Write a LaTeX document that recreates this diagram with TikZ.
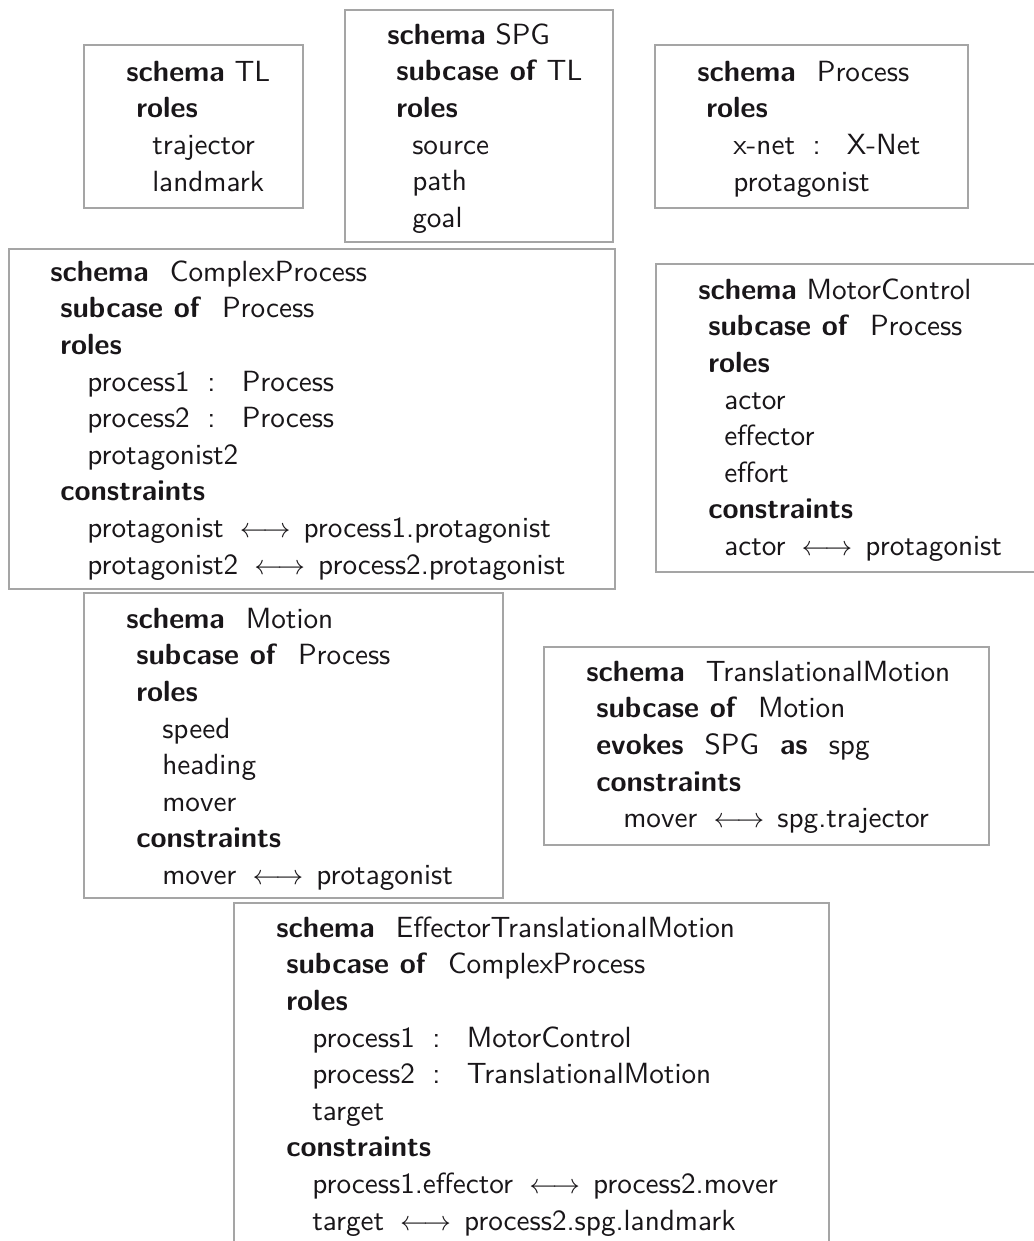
\documentclass[tikz,border=0pt]{standalone}
\usepackage{fontspec}
\setsansfont{lmsans10}[Extension=.otf, UprightFont=*-regular, BoldFont=*-bold]
\newdimen\pxu \pxu=0.75pt
\newcommand\kw[1]{\textbf{#1}}
\newcommand\wgap{\hspace{0.72em}}
\newcommand\colsep{\hspace{0.6em}:\hspace{0.9em}}
\newcommand\lra{\hspace{0.55em}$\longleftrightarrow$\hspace{0.45em}}
\newcommand\ind[1]{\hspace*{#1\pxu}}
\definecolor{boxgray}{RGB}{165,165,165}
\definecolor{ink}{RGB}{25,22,25}
\tikzset{
  schemabox/.style={draw=boxgray, line width=1.5pt},
  schematext/.style={anchor=north west, inner sep=0pt, align=left, text=ink,
    font=\sffamily\fontsize{21.9}{27.45}\selectfont},
}
\begin{document}
\begin{tikzpicture}[x=0.75pt,y=-0.75pt]
\useasboundingbox (0,0) rectangle (1034,1241);
\fill[white] (0,0) rectangle (1034,1241);
\clip (0,0) rectangle (1034,1241);
% boxes
\draw[schemabox] (84,45) rectangle (303,208);
\draw[schemabox] (345,10) rectangle (613,242);
\draw[schemabox] (655,45) rectangle (968,208);
\draw[schemabox] (9,249) rectangle (615,589);
\draw[schemabox] (656,264) rectangle (1045,572);
\draw[schemabox] (84,593) rectangle (503,898);
\draw[schemabox] (544,647) rectangle (989,845);
\draw[schemabox] (234,903) rectangle (829,1260);
% texts (y = first baseline - 25.6)
\node[schematext] (tl) at (126,55.4) {\strut\kw{schema} TL\\
\ind{10}\kw{roles}\\
\ind{26}trajector\\
\ind{26}landmark};
\node[schematext] (spg) at (387,18.4) {\strut\kw{schema} SPG\\
\ind{9}\kw{subcase of} TL\\
\ind{9}\kw{roles}\\
\ind{25}source\\
\ind{25}path\\
\ind{25}goal};
\node[schematext] (process) at (697,55.4) {\strut\kw{schema}\wgap Process\\
\ind{9}\kw{roles}\\
\ind{36}x-net\colsep X-Net\\
\ind{36}protagonist};
\node[schematext] (complex) at (50,255.4) {\strut\kw{schema}\wgap ComplexProcess\\
\ind{10}\kw{subcase of}\wgap Process\\
\ind{10}\kw{roles}\\
\ind{37}process1\colsep Process\\
\ind{37}process2\colsep Process\\
\ind{37}protagonist2\\
\ind{10}\kw{constraints}\\
\ind{37}protagonist\lra process1.protagonist\\
\ind{37}protagonist2\lra process2.protagonist};
\node[schematext] (motor) at (698,273.4) {\strut\kw{schema} MotorControl\\
\ind{10}\kw{subcase of}\wgap Process\\
\ind{10}\kw{roles}\\
\ind{26}actor\\
\ind{26}effector\\
\ind{26}effort\\
\ind{10}\kw{constraints}\\
\ind{26}actor\lra protagonist};
\node[schematext] (motion) at (126,602.4) {\strut\kw{schema}\wgap Motion\\
\ind{10}\kw{subcase of}\wgap Process\\
\ind{10}\kw{roles}\\
\ind{36}speed\\
\ind{36}heading\\
\ind{36}mover\\
\ind{10}\kw{constraints}\\
\ind{36}mover\lra protagonist};
\node[schematext] (transl) at (586,655.4) {\strut\kw{schema}\wgap TranslationalMotion\\
\ind{10}\kw{subcase of}\wgap Motion\\
\ind{10}\kw{evokes}\wgap SPG\wgap\kw{as}\wgap spg\\
\ind{10}\kw{constraints}\\
\ind{37}mover\lra spg.trajector};
\node[schematext] (efftm) at (276,911.4) {\strut\kw{schema}\wgap EffectorTranslationalMotion\\
\ind{10}\kw{subcase of}\wgap ComplexProcess\\
\ind{10}\kw{roles}\\
\ind{36}process1\colsep MotorControl\\
\ind{36}process2\colsep TranslationalMotion\\
\ind{36}target\\
\ind{10}\kw{constraints}\\
\ind{36}process1.effector\lra process2.mover\\
\ind{36}target\lra process2.spg.landmark};
\end{tikzpicture}
\end{document}
